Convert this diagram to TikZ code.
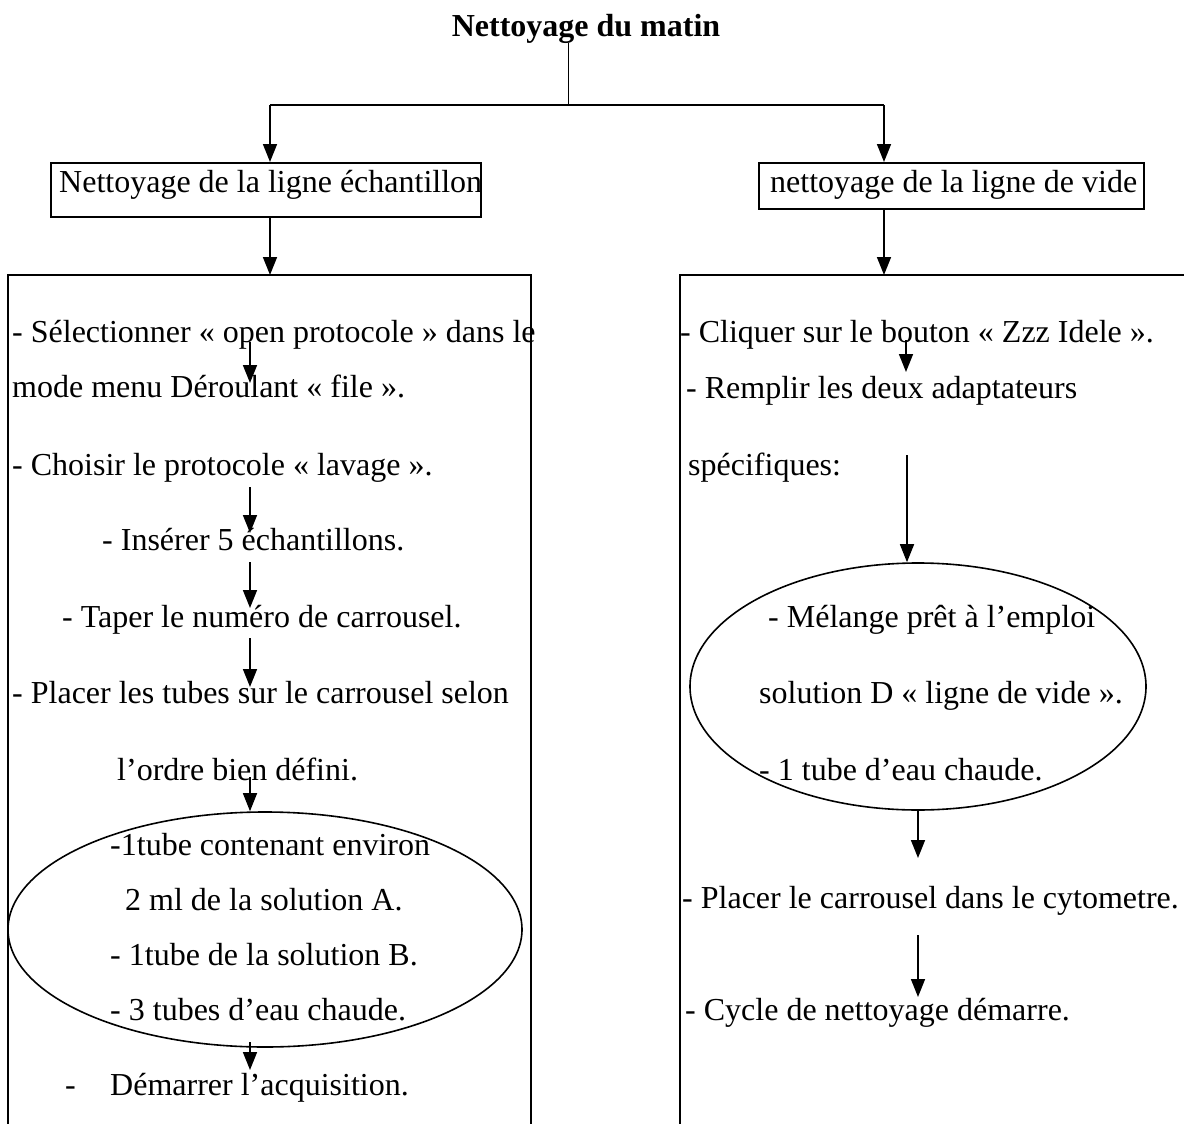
\documentclass[tikz,border=0pt]{standalone}
\usepackage{fontspec}
\setmainfont{Liberation Serif}
\usetikzlibrary{arrows.meta,shapes.geometric}
\begin{document}
\begin{tikzpicture}[x=1pt,y=-1pt,
  txt/.style={font=\fontsize{32}{38}\selectfont, inner sep=0pt, anchor=base west},
  ttl/.style={font=\fontsize{32}{38}\selectfont\bfseries, inner sep=0pt, anchor=base},
  hbox/.style={draw, line width=2pt, inner sep=0pt},
  oval/.style={draw, ellipse, line width=1.6pt, inner sep=0pt},
  arr/.style={line width=1.6pt, -{Triangle[length=18pt,width=14pt]}},
  wire/.style={line width=2.4pt}]
\useasboundingbox (0,0) rectangle (1184,1124);
\fill[white] (0,0) rectangle (1184,1124);

% title
\node[ttl] (title) at (586,37) {Nettoyage du matin};
\coordinate (tb) at (568,43);
\coordinate (split) at (568,105);
\coordinate (sl) at (270,105);
\coordinate (sr) at (884,105);
\draw[line width=1pt] (tb) -- (split);
\draw[wire] (sl) -- (sr);

% header boxes
\node[hbox, minimum width=430pt, minimum height=54pt] (hl) at (266,190) {};
\node[hbox, minimum width=385pt, minimum height=46pt] (hr) at (951.5,186) {};
\node[txt] (hlt) at (59,192) {Nettoyage de la ligne échantillon};
\node[txt] (hrt) at (770,192) {nettoyage de la ligne de vide};
\draw[arr] (sl) -- (sl |- hl.north);
\draw[arr] (sr) -- (sr |- hr.north);

% big boxes (open at bottom / right)
\coordinate (bl1) at (8,1140);
\coordinate (bl2) at (8,275);
\coordinate (bl3) at (531,275);
\coordinate (bl4) at (531,1140);
\coordinate (br1) at (680,1140);
\coordinate (br2) at (680,275);
\coordinate (br3) at (1200,275);
\draw[line width=2pt] (bl1) -- (bl2) -- (bl3) -- (bl4);
\draw[line width=2pt] (br1) -- (br2) -- (br3);
\draw[arr] (hl.south -| sl) -- (bl2 -| sl);
\draw[arr] (hr.south -| sr) -- (br2 -| sr);

% left column
\node[txt] (l1) at (12,342) {- Sélectionner « open protocole » dans le};
\node[txt] (l2) at (12,397) {mode menu Déroulant « file ».};
\node[txt] (l3) at (12,475) {- Choisir le protocole « lavage ».};
\node[txt] (l4) at (102,550) {- Insérer 5 échantillons.};
\node[txt] (l5) at (62,627) {- Taper le numéro de carrousel.};
\node[txt] (l6) at (12,703) {- Placer les tubes sur le carrousel selon};
\node[txt] (l7) at (117,780) {l’ordre bien défini.};
\node[oval, minimum width=514pt, minimum height=235pt] (el) at (265,929.5) {};
\node[txt] (l8) at (110,855) {-1tube contenant environ};
\node[txt] (l9) at (125,910) {2 ml de la solution A.};
\node[txt] (l10) at (110,965) {- 1tube de la solution B.};
\node[txt] (l11) at (110,1020) {- 3 tubes d’eau chaude.};
\node[txt] (l12a) at (65,1095) {-};
\node[txt] (l12) at (110,1095) {Démarrer l’acquisition.};

\coordinate (a1s) at (250,342); \coordinate (a1e) at (250,383);
\coordinate (a2s) at (250,487); \coordinate (a2e) at (250,533);
\coordinate (a3s) at (250,562); \coordinate (a3e) at (250,608);
\coordinate (a4s) at (250,638); \coordinate (a4e) at (250,687);
\coordinate (a5s) at (250,777);
\coordinate (a6s) at (250,1042); \coordinate (a6e) at (250,1070);
\draw[arr] (a1s) -- (a1e);
\draw[arr] (a2s) -- (a2e);
\draw[arr] (a3s) -- (a3e);
\draw[arr] (a4s) -- (a4e);
\draw[arr] (a5s) -- (a5s |- el.north);
\draw[arr] (a6s) -- (a6e);

% right column
\node[txt] (r1) at (680,342) {- Cliquer sur le bouton « Zzz Idele ».};
\node[txt] (r2) at (686,398) {- Remplir les deux adaptateurs};
\node[txt] (r3) at (688,475) {spécifiques:};
\node[oval, minimum width=456pt, minimum height=247pt] (er) at (918,686.5) {};
\node[txt] (r4) at (768,627) {- Mélange prêt à l’emploi};
\node[txt] (r5) at (759,703) {solution D « ligne de vide ».};
\node[txt] (r6) at (759,780) {- 1 tube d’eau chaude.};
\node[txt] (r7) at (682,908) {- Placer le carrousel dans le cytometre.};
\node[txt] (r8) at (685,1020) {- Cycle de nettoyage démarre.};

\coordinate (b1s) at (906,340); \coordinate (b1e) at (906,372);
\coordinate (b2s) at (907,455);
\coordinate (b3e) at (918,858);
\coordinate (b4s) at (918,935); \coordinate (b4e) at (918,997);
\draw[arr] (b1s) -- (b1e);
\draw[arr] (b2s) -- (b2s |- er.north);
\draw[arr] (er.south) -- (b3e);
\draw[arr] (b4s) -- (b4e);
\end{tikzpicture}
\end{document}
